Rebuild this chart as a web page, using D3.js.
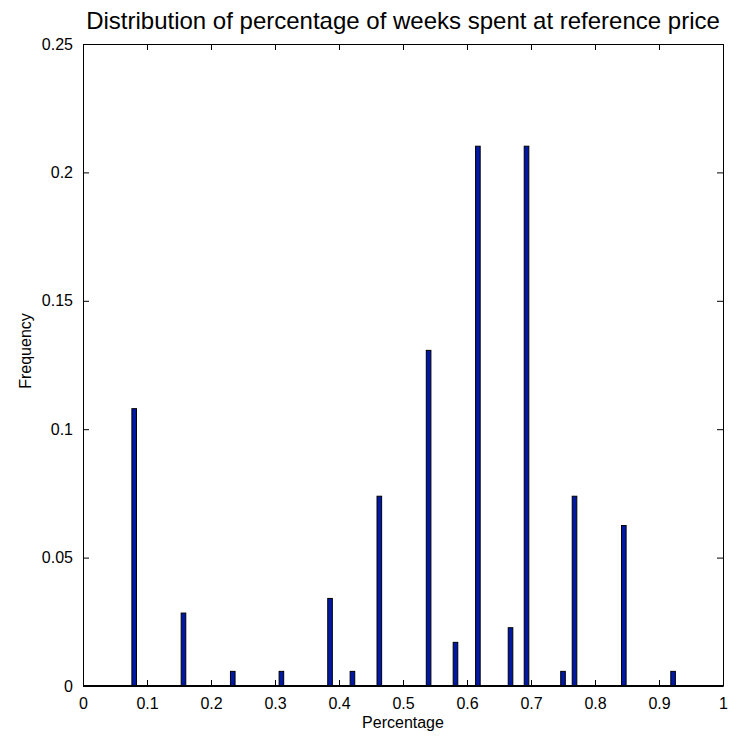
<!DOCTYPE html>
<html>
<head>
<meta charset="utf-8">
<script src="https://cdn.jsdelivr.net/npm/d3@7"></script>
<style>
  body { margin: 0; background: #fff; overflow: hidden; }
  text { font-family: "Liberation Sans", Arial, sans-serif; fill: #000; }
</style>
</head>
<body>
<svg id="chart"></svg>
<script>
// bin centres (share of weeks at reference price) and their relative frequency
var binCenters = [0.080, 0.157, 0.234, 0.310, 0.386, 0.421, 0.463, 0.540, 0.582, 0.617, 0.668, 0.693, 0.750, 0.768, 0.845, 0.922]
var frequencies = [0.108, 0.0284, 0.0057, 0.0057, 0.0341, 0.0057, 0.0739, 0.1307, 0.0170, 0.2102, 0.0227, 0.2102, 0.0057, 0.0739, 0.0625, 0.0057]
var xTicks = [0, 0.1, 0.2, 0.3, 0.4, 0.5, 0.6, 0.7, 0.8, 0.9, 1]
var yTicks = [0, 0.05, 0.1, 0.15, 0.2, 0.25]

var W = 732, H = 739
var margin = {top: 44, right: 9, bottom: 53, left: 83}
var width = W - margin.left - margin.right
var height = H - margin.top - margin.bottom

var svg = d3.select("#chart").attr("width", W).attr("height", H)
var g = svg.append("g").attr("transform", `translate(${margin.left},${margin.top})`)

var x = d3.scaleLinear().domain([0, 1]).range([0, width])
var y = d3.scaleLinear().domain([0, 0.25]).range([height, 0])

var barW = x(0.0072) - x(0)
var data = binCenters.map((c, i) => ({c: c, f: frequencies[i]}))

// bars
g.selectAll(".bar")
 .data(data)
 .join("rect")
 .attr("x", d => x(d.c) - barW / 2)
 .attr("y", d => y(d.f))
 .attr("width", barW)
 .attr("height", d => y(0) - y(d.f))
 .attr("fill", "#0018a6")
 .attr("stroke", "#000")
 .attr("stroke-width", 1)

// axes, ticks inward on all four sides
var fmt = d => d === 0 ? "0" : d === 1 ? "1" : String(+d.toFixed(2))
var tickLen = 6

g.append("g")
 .attr("transform", `translate(0,${height})`)
 .call(d3.axisBottom(x).tickValues(xTicks).tickSizeInner(-tickLen).tickSizeOuter(0).tickPadding(12).tickFormat(fmt))
g.append("g")
 .call(d3.axisTop(x).tickValues(xTicks).tickSizeInner(-tickLen).tickSizeOuter(0).tickFormat(""))
g.append("g")
 .call(d3.axisLeft(y).tickValues(yTicks).tickSizeInner(-tickLen).tickSizeOuter(0).tickPadding(10).tickFormat(fmt))
g.append("g")
 .attr("transform", `translate(${width},0)`)
 .call(d3.axisRight(y).tickValues(yTicks).tickSizeInner(-tickLen).tickSizeOuter(0).tickFormat(""))

g.selectAll(".domain").attr("stroke", "#000")
g.selectAll(".tick line").attr("stroke", "#000")
g.selectAll(".tick text").attr("font-size", 16).attr("font-family", "Liberation Sans, Arial, sans-serif").attr("fill", "#000")

// thicker baseline like the reference
g.append("line")
 .attr("x1", 0).attr("x2", width)
 .attr("y1", height).attr("y2", height)
 .attr("stroke", "#000").attr("stroke-width", 2)

// labels
svg.append("text")
   .attr("x", margin.left + width / 2)
   .attr("y", 29)
   .attr("text-anchor", "middle")
   .attr("font-size", 24)
   .text("Distribution of percentage of weeks spent at reference price")

svg.append("text")
   .attr("x", margin.left + width / 2)
   .attr("y", 728)
   .attr("text-anchor", "middle")
   .attr("font-size", 16)
   .text("Percentage")

svg.append("text")
   .attr("transform", `translate(31,351) rotate(-90)`)
   .attr("text-anchor", "middle")
   .attr("font-size", 16)
   .text("Frequency")
</script>
</body>
</html>
